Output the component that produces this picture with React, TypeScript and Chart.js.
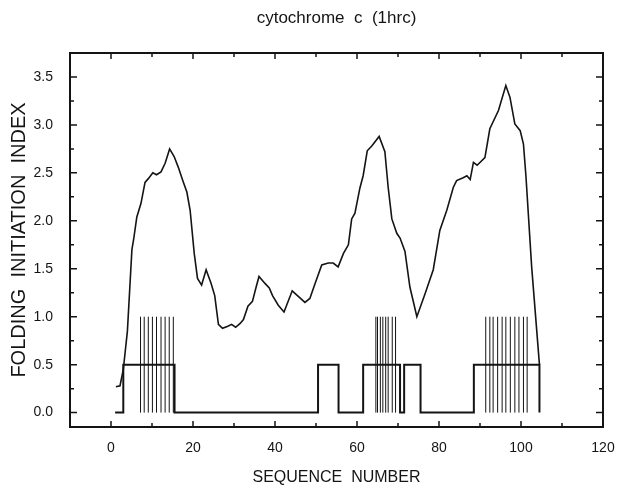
import React, { useEffect, useRef } from "react";
import { Chart, registerables } from "chart.js";

Chart.register(...registerables);

// Folding initiation index curve (sequence number, index)
const curveX = [
  1.2, 2.2, 3.0, 4.0, 5.1, 5.5, 6.3, 7.3, 8.3, 9.1, 10.2, 11.1, 12.2, 13.2, 14.3,
  15.4, 16.4, 17.5, 18.5, 19.3, 20.3, 21.1, 22.1, 23.2, 24.4, 25.3, 26.2, 27.2,
  28.5, 29.4, 30.4, 31.5, 32.3, 33.4, 34.5, 35.4, 36.1, 37.5, 38.6, 39.4, 40.8,
  42.2, 44.2, 47.3, 48.5, 49.8, 51.4, 53.0, 54.2, 55.4, 56.7, 57.9, 58.7, 59.5,
  60.7, 61.5, 62.5, 63.6, 65.4, 66.8, 67.6, 68.5, 69.7, 70.5, 71.7, 72.9, 74.6,
  76.6, 78.6, 80.2, 81.9, 83.5, 84.3, 85.9, 86.8, 87.6, 88.4, 89.3, 91.2, 92.4,
  94.5, 96.3, 97.3, 98.5, 99.8, 100.6, 101.2, 102.6, 104.5,
];
const curveY = [
  0.27, 0.28, 0.45, 0.85, 1.7, 1.8, 2.04, 2.18, 2.4, 2.44, 2.5, 2.48, 2.51, 2.6, 2.75,
  2.67, 2.56, 2.42, 2.3, 2.11, 1.66, 1.4, 1.33, 1.49, 1.35, 1.22, 0.92, 0.88,
  0.9, 0.92, 0.89, 0.93, 0.97, 1.11, 1.16, 1.31, 1.42, 1.35, 1.3, 1.22, 1.12,
  1.05, 1.27, 1.15, 1.19, 1.35, 1.54, 1.56, 1.56, 1.52, 1.66, 1.75, 2.02, 2.08,
  2.34, 2.47, 2.73, 2.78, 2.88, 2.72, 2.35, 2.02, 1.87, 1.82, 1.68, 1.31, 1.0,
  1.24, 1.49, 1.9, 2.11, 2.35, 2.42, 2.45, 2.47, 2.43, 2.61, 2.58, 2.66, 2.96,
  3.15, 3.41, 3.29, 3.01, 2.94, 2.8, 2.47, 1.52, 0.5,
];

// Helix profile (step function): level changes at these sequence numbers
const stepX = [1, 3, 15.5, 50.5, 55.5, 61.5, 70.5, 71.5, 75.5, 88.5, 104.5];
const stepY = [0, 0.5, 0, 0.5, 0, 0.5, 0, 0.5, 0, 0.5, 0];

// Predicted folding initiation sites (vertical bars)
const siteX = [
  7.2, 8.1, 9.1, 10.1, 11.1, 12.2, 13.2, 14.2, 15.2,
  64.6, 65.0, 65.7, 66.3, 67.0, 67.6, 68.6, 69.4,
  91.4, 92.4, 93.2, 94.3, 95.4, 96.3, 97.4, 98.5, 99.5, 100.6, 101.5,
];
const siteTop = 1.0;

// Axes
const xMajorTicks = [0, 20, 40, 60, 80, 100, 120];
const xMinorTicks = [10, 30, 50, 70, 90, 110];
const yMajorTicks = [0, 0.5, 1.0, 1.5, 2.0, 2.5, 3.0, 3.5];
const yMinorTicks = [0.25, 0.75, 1.25, 1.75, 2.25, 2.75, 3.25];

const FONT = "'Liberation Sans', Arial, Helvetica, sans-serif";
const INK = "#141414";

const framePlugin = {
  id: "frame",
  afterDatasetsDraw(chart: any) {
    const { ctx, chartArea } = chart;
    const { left, right, top, bottom } = chartArea;
    const xs = chart.scales.x;
    const ys = chart.scales.y;
    ctx.save();
    ctx.strokeStyle = INK;
    ctx.lineWidth = 1.5;
    ctx.beginPath();
    const xt = (v: number, len: number) => {
      const p = xs.getPixelForValue(v);
      ctx.moveTo(p, bottom);
      ctx.lineTo(p, bottom - len);
      ctx.moveTo(p, top);
      ctx.lineTo(p, top + len);
    };
    const yt = (v: number, len: number) => {
      const p = ys.getPixelForValue(v);
      ctx.moveTo(left, p);
      ctx.lineTo(left + len, p);
      ctx.moveTo(right, p);
      ctx.lineTo(right - len, p);
    };
    xMajorTicks.forEach((v) => xt(v, 6));
    xMinorTicks.forEach((v) => xt(v, 4));
    yMajorTicks.forEach((v) => yt(v, 7));
    yMinorTicks.forEach((v) => yt(v, 4));
    ctx.stroke();
    ctx.lineWidth = 2;
    ctx.strokeRect(left, top, right - left, bottom - top);
    ctx.restore();
  },
};

export default function App() {
  const ref = useRef<HTMLCanvasElement | null>(null);

  useEffect(() => {
    if (!ref.current) return;
    const curve = curveX.map((x, i) => ({ x, y: curveY[i] }));
    const steps = stepX.map((x, i) => ({ x, y: stepY[i] }));
    const sites: { x: number; y: number | null }[] = [];
    siteX.forEach((x) => {
      sites.push({ x, y: 0 });
      sites.push({ x, y: siteTop });
      sites.push({ x, y: null });
    });

    const chart = new Chart(ref.current, {
      type: "line",
      data: {
        datasets: [
          {
            data: sites as any,
            borderColor: INK,
            borderWidth: 1,
            pointRadius: 0,
            spanGaps: false,
            fill: false,
          },
          {
            data: steps,
            borderColor: INK,
            borderWidth: 2,
            pointRadius: 0,
            stepped: "before",
            fill: false,
          },
          {
            data: curve,
            borderColor: INK,
            borderWidth: 1.6,
            pointRadius: 0,
            tension: 0,
            fill: false,
          },
        ],
      },
      options: {
        animation: false,
        responsive: false,
        maintainAspectRatio: false,
        events: [],
        layout: { padding: { top: 0, left: 0, right: 15, bottom: 0 } },
        plugins: {
          legend: { display: false },
          tooltip: { enabled: false },
          title: {
            display: true,
            text: "cytochrome  c  (1hrc)",
            fullSize: false,
            color: INK,
            font: { family: FONT, size: 17, weight: "normal" },
            padding: { top: 8, bottom: 24.6 },
          },
        },
        scales: {
          x: {
            type: "linear",
            min: -10,
            max: 120,
            grid: { display: false, drawTicks: false },
            border: { display: false },
            afterBuildTicks: (s: any) => {
              s.ticks = xMajorTicks.map((v) => ({ value: v }));
            },
            afterFit: (s: any) => {
              s.height = 60;
              s.paddingLeft = 0;
              s.paddingRight = 0;
            },
            ticks: {
              padding: 13,
              color: INK,
              font: { family: FONT, size: 14 },
              maxRotation: 0,
              callback: (v: any) => String(v),
            },
            title: {
              display: true,
              text: "SEQUENCE  NUMBER",
              color: INK,
              font: { family: FONT, size: 16 },
              padding: { top: 0, bottom: 0 },
            },
          },
          y: {
            type: "linear",
            min: -0.15,
            max: 3.75,
            grid: { display: false, drawTicks: false },
            border: { display: false },
            afterBuildTicks: (s: any) => {
              s.ticks = yMajorTicks.map((v) => ({ value: v }));
            },
            afterFit: (s: any) => {
              s.width = 70;
              s.paddingTop = 0;
              s.paddingBottom = 0;
            },
            ticks: {
              padding: 17,
              color: INK,
              font: { family: FONT, size: 14 },
              callback: (v: any) => Number(v).toFixed(1),
            },
            title: {
              display: true,
              text: "FOLDING  INITIATION  INDEX",
              color: INK,
              font: { family: FONT, size: 20 },
              padding: { top: 7, bottom: 0 },
            },
          },
        },
      },
      plugins: [framePlugin],
    });
    return () => chart.destroy();
  }, []);

  return (
    <div
      style={{
        position: "fixed",
        left: 0,
        top: 0,
        width: 618,
        height: 487,
        background: "#fff",
      }}
    >
      <canvas
        ref={ref}
        width={618}
        height={487}
        style={{ display: "block", width: 618, height: 487 }}
      />
    </div>
  );
}
